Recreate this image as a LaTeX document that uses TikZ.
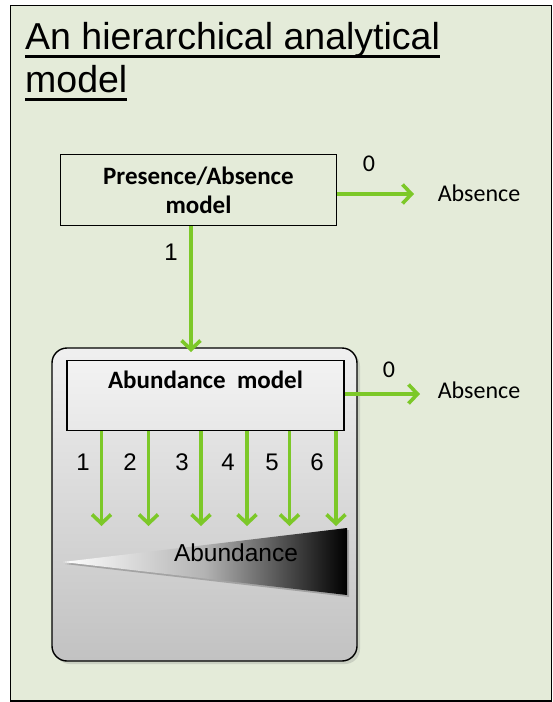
\documentclass[tikz,border=0pt]{standalone}
\usepackage{fontspec}
\setmainfont{Liberation Sans}
\newfontfamily\calibri{Carlito}
\newcommand{\ulinetitle}[1]{\setbox0\hbox{#1}\rlap{\rule[-9.2pt]{\wd0}{3pt}}\box0}
\usetikzlibrary{arrows.meta,shadows}
\definecolor{bggreen}{RGB}{228,235,217}
\definecolor{arrgreen}{RGB}{124,200,40}
\tikzset{
  flow/.style={draw=arrgreen,line width=3.6pt,-{Straight Barb[length=9pt,width=19pt,line width=3.6pt]}},
  modelbox/.style={draw,line width=1.2pt,font=\calibri\bfseries\fontsize{25}{29}\selectfont,align=center},
  lab/.style={font=\fontsize{24}{26}\selectfont,inner sep=0pt,anchor=base},
  zero/.style={font=\calibri\fontsize{24}{28}\selectfont,inner sep=0pt},
  outcome/.style={font=\calibri\fontsize{24}{28}\selectfont,anchor=base,inner sep=0pt},
  titleline/.style={anchor=base west,inner sep=0pt,font=\fontsize{37.5}{42}\selectfont}
}
\begin{document}
\begin{tikzpicture}[x=1pt,y=-1pt]
  \useasboundingbox (0,0) rectangle (552,702);
  \fill[white] (0,0) rectangle (552,702);
  \draw[fill=bggreen,line width=1.5pt] (10.5,5.5) rectangle (551.5,701);

  % title
  \node[titleline] (title1) at (25,49) {\ulinetitle{An hierarchical analytical}};
  \node[titleline] (title2) at (25,92) {\ulinetitle{model}};

  % first level
  \node[modelbox,minimum width=276pt,minimum height=71pt] (pa) at (198.5,190) {Presence/Absence\\model};
  \node[outcome] (abs1) at (479,201) {Absence};
  \coordinate (e1) at (414,194);
  \draw[flow] (pa.east |- e1) -- (e1);
  \node[zero] (z1) at (369,164) {0};

  % second level
  \node[draw,line width=1.4pt,rounded corners=15pt,top color=gray!12,bottom color=gray!48,
        minimum width=305pt,minimum height=313pt,
        drop shadow={opacity=0.25,shadow xshift=3pt,shadow yshift=-3pt}] (outer) at (204.5,504.5) {};
  \node[modelbox,top color=gray!10,bottom color=gray!18,minimum width=277pt,minimum height=70pt,
        text depth=32pt] (ab) at (205.5,395.5) {Abundance\ \ model};
  \coordinate (e0) at (191,352);
  \draw[flow] (pa.south -| e0) -- (e0);
  \node[lab] (one) at (171,260) {1};
  \node[outcome] (abs2) at (479,398) {Absence};
  \coordinate (e2) at (420,394);
  \draw[flow] (ab.east |- e2) -- (e2);
  \node[zero] (z2) at (389,370) {0};

  % abundance classes
  \foreach \x/\lx/\n in {101.5/83/1,148.5/130/2,201/182/3,247/228/4,289.5/272/5,336/317/6}{
    \coordinate (c\n) at (\x,526);
    \draw[flow] (ab.south -| c\n) -- (c\n);
    \node[lab] (l\n) at (\lx,470.5) {\n};
  }

  % wedge
  \fill[gray!50!black,opacity=0.3] (65,564) -- (349,530) -- (349,597) -- cycle;
  \shade[left color=white,right color=black,middle color=gray!60] (63,562) -- (347,528) -- (347,595) -- cycle;
  \node[lab,font=\fontsize{24.5}{28}\selectfont] (abund) at (236,561) {Abundance};
\end{tikzpicture}
\end{document}
